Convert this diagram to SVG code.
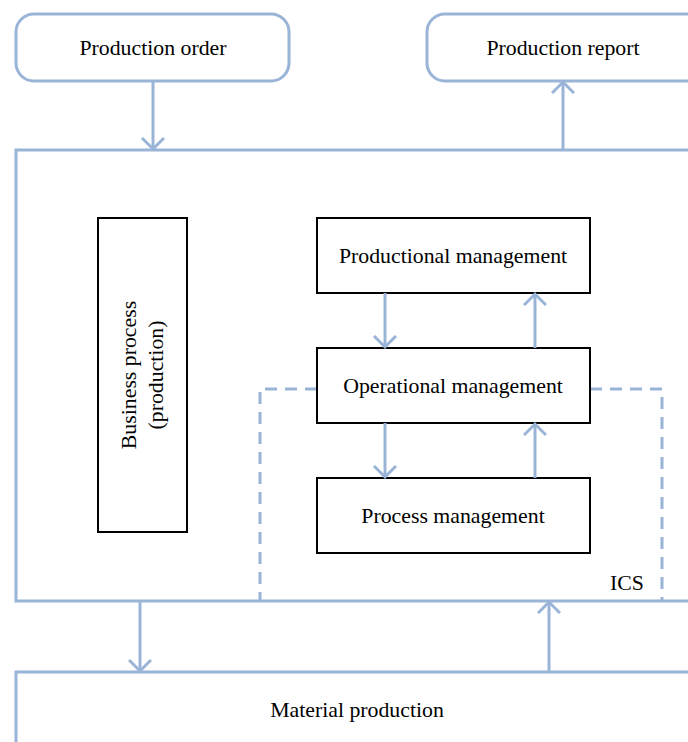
<svg xmlns="http://www.w3.org/2000/svg" width="688" height="742" viewBox="0 0 688 742">
  <style>
    .blue { fill: none; stroke: #9AB4D8; stroke-width: 3; }
    .dash { fill: none; stroke: #9AB4D8; stroke-width: 3; stroke-dasharray: 12 8; }
    .box { fill: #ffffff; stroke: #000000; stroke-width: 2; }
    .lbl { font-family: "Liberation Serif", "Times New Roman", serif; font-size: 21.8px; fill: #000000; text-anchor: middle; }
  </style>
  <defs>
    <marker id="chev" viewBox="0 0 24 24" refX="12" refY="12" markerWidth="24" markerHeight="24" markerUnits="userSpaceOnUse" orient="auto">
      <path d="M1,1 L12,12 L1,23" fill="none" stroke="#9AB4D8" stroke-width="3" stroke-linejoin="miter"/>
    </marker>
  </defs>
  <rect width="688" height="742" fill="#ffffff"/>

  <!-- frames -->
  <g id="ics">
    <rect class="blue" x="16" y="150" width="700" height="451"/>
    <text class="lbl" x="627" y="590">ICS</text>
  </g>
  <g id="ics-dashed">
    <path class="dash" d="M317,389 H260 V601"/>
    <path class="dash" d="M590,389 H662 V601"/>
  </g>
  <g id="material-production">
    <rect class="blue" x="16" y="672" width="700" height="100"/>
    <text class="lbl" x="357" y="717">Material production</text>
  </g>

  <g id="production-order">
    <rect class="blue" x="16" y="14" width="273" height="67" rx="18"/>
    <text class="lbl" x="153" y="55">Production order</text>
  </g>
  <g id="production-report">
    <rect class="blue" x="427" y="14" width="290" height="67" rx="18"/>
    <text class="lbl" x="563" y="55">Production report</text>
  </g>

  <g id="business-process">
    <rect class="box" x="98" y="218" width="89" height="314"/>
    <text class="lbl" transform="translate(136,375) rotate(-90)">Business process</text>
    <text class="lbl" transform="translate(163,375) rotate(-90)">(production)</text>
  </g>
  <g id="productional-management">
    <rect class="box" x="317" y="218" width="273" height="75"/>
    <text class="lbl" x="453" y="263">Productional management</text>
  </g>
  <g id="operational-management">
    <rect class="box" x="317" y="348" width="273" height="75"/>
    <text class="lbl" x="453" y="393">Operational management</text>
  </g>
  <g id="process-management">
    <rect class="box" x="317" y="478" width="273" height="75"/>
    <text class="lbl" x="453" y="523">Process management</text>
  </g>

  <g id="connectors">
    <line class="blue" x1="153" y1="81" x2="153" y2="149" marker-end="url(#chev)"/>
    <line class="blue" x1="563" y1="150" x2="563" y2="82" marker-end="url(#chev)"/>
    <line class="blue" x1="385" y1="293" x2="385" y2="347" marker-end="url(#chev)"/>
    <line class="blue" x1="535" y1="348" x2="535" y2="294" marker-end="url(#chev)"/>
    <line class="blue" x1="385" y1="423" x2="385" y2="477" marker-end="url(#chev)"/>
    <line class="blue" x1="535" y1="478" x2="535" y2="424" marker-end="url(#chev)"/>
    <line class="blue" x1="140" y1="601" x2="140" y2="671" marker-end="url(#chev)"/>
    <line class="blue" x1="549" y1="672" x2="549" y2="602" marker-end="url(#chev)"/>
  </g>
</svg>
